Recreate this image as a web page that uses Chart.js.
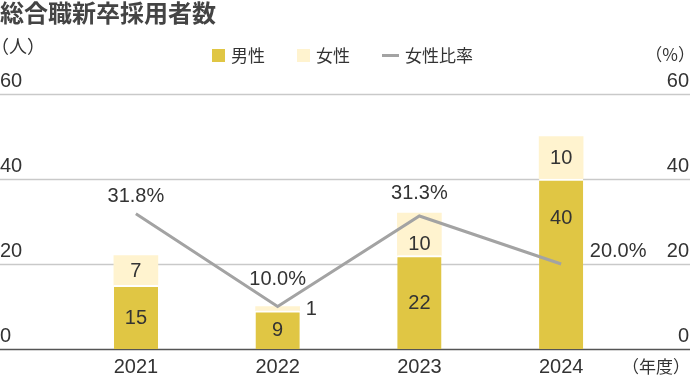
<!DOCTYPE html>
<html lang="ja">
<head>
<meta charset="utf-8">
<script src="https://cdn.jsdelivr.net/npm/chart.js@4.4.1/dist/chart.umd.min.js"></script>
<style>
  html, body { margin: 0; padding: 0; background: #fff; }
  #wrap { position: relative; width: 690px; height: 378px; }
  canvas { display: block; }
</style>
</head>
<body>
<div id="wrap"><canvas id="chart" width="690" height="378"></canvas></div>
<script>
// Chart data
const years = ['2021', '2022', '2023', '2024'];
const maleHires = [15, 9, 22, 40];
const femaleHires = [7, 1, 10, 10];
const femaleRatio = [31.8, 10.0, 31.3, 20.0];
const countTicks = [0, 20, 40, 60];
const ratioTicks = [0, 20, 40, 60];

// Colours and fonts
const maleColor = '#e0c644';
const femaleColor = '#fff3cf';
const lineColor = '#a3a3a3';
const textColor = '#333333';
const latin = '"Liberation Sans", Arial, sans-serif';
const jp = '"Noto Sans CJK JP", "Noto Sans", sans-serif';

// label nudges so values don't sit on the ratio line
const ratioLabelOffset = [[0, -17], [0, -27], [0, -22], [57, -13]];
const maleLabelShift = [0, 0, 0, -47];
const femaleLabelShift = [0, 0, 9, 0];

const decorations = {
    id: 'decorations',
    beforeDatasetsDraw(chart) {
        const ctx = chart.ctx;
        const y = chart.scales.y;
        ctx.save();
        countTicks.forEach(v => {
            const py = Math.round(y.getPixelForValue(v)) + 0.5;
            ctx.beginPath();
            ctx.moveTo(0, py);
            ctx.lineTo(chart.width, py);
            ctx.lineWidth = v === 0 ? 1.6 : 1.4;
            ctx.strokeStyle = v === 0 ? '#555555' : '#c9c9c9';
            ctx.stroke();
        });
        ctx.restore();
    },
    afterDraw(chart) {
        const ctx = chart.ctx;
        const x = chart.scales.x;
        const y = chart.scales.y;
        const y1 = chart.scales.y1;
        ctx.save();
        ctx.fillStyle = textColor;

        // title
        ctx.font = 'bold 24px ' + jp;
        ctx.textAlign = 'left';
        ctx.textBaseline = 'middle';
        ctx.fillStyle = '#444444';
        ctx.fillText('総合職新卒採用者数', 0, 13);
        ctx.fillStyle = textColor;

        // unit labels
        ctx.font = '18px ' + jp;
        ctx.fillText('（人）', -9, 46);
        ctx.font = '17px ' + jp;
        ctx.textAlign = 'right';
        ctx.fillText('（%）', 695, 55);

        // left / right tick labels
        ctx.font = '20px ' + latin;
        ctx.textBaseline = 'alphabetic';
        countTicks.forEach(v => {
            ctx.textAlign = 'left';
            ctx.fillText(String(v), 0, y.getPixelForValue(v) - 7);
        });
        ratioTicks.forEach(v => {
            ctx.textAlign = 'right';
            ctx.fillText(String(v), 689, y1.getPixelForValue(v) - 7);
        });

        // category labels
        ctx.textAlign = 'center';
        ctx.textBaseline = 'middle';
        years.forEach((yr, i) => {
            ctx.fillText(yr, x.getPixelForValue(i), 367);
        });
        ctx.font = '17px ' + jp;
        ctx.textAlign = 'right';
        ctx.fillText('（年度）', 690, 367);

        // legend
        ctx.textAlign = 'left';
        ctx.font = '17px ' + jp;
        ctx.fillStyle = maleColor;
        ctx.fillRect(212, 49, 13, 13);
        ctx.fillStyle = textColor;
        ctx.fillText(chart.data.datasets[0].label, 231, 56);
        ctx.fillStyle = femaleColor;
        ctx.fillRect(297, 49, 13, 13);
        ctx.fillStyle = textColor;
        ctx.fillText(chart.data.datasets[1].label, 316, 56);
        ctx.strokeStyle = lineColor;
        ctx.lineWidth = 3;
        ctx.beginPath();
        ctx.moveTo(382, 55.5);
        ctx.lineTo(399, 55.5);
        ctx.stroke();
        ctx.fillText(chart.data.datasets[2].label, 405, 56);

        // bar value labels
        ctx.font = '20px ' + latin;
        const shifts = [maleLabelShift, femaleLabelShift];
        [0, 1].forEach(di => {
            const meta = chart.getDatasetMeta(di);
            const values = chart.data.datasets[di].data;
            meta.data.forEach((bar, i) => {
                const h = Math.abs(bar.base - bar.y);
                const cy = (bar.y + bar.base) / 2 + 1 + shifts[di][i];
                if (h < 15) {
                    ctx.textAlign = 'left';
                    ctx.fillText(String(values[i]), bar.x + bar.width / 2 + 6, cy);
                } else {
                    ctx.textAlign = 'center';
                    ctx.fillText(String(values[i]), bar.x, cy);
                }
            });
        });

        // ratio labels
        ctx.textAlign = 'center';
        const lineMeta = chart.getDatasetMeta(2);
        lineMeta.data.forEach((pt, i) => {
            const off = ratioLabelOffset[i];
            ctx.fillText(femaleRatio[i].toFixed(1) + '%', pt.x + off[0], pt.y + off[1]);
        });
        ctx.restore();
    }
};

const chart = new Chart(document.getElementById('chart').getContext('2d'), {
    data: {
        labels: years,
        datasets: [
            {
                type: 'bar',
                label: '男性',
                data: maleHires,
                backgroundColor: maleColor,
                borderColor: '#ffffff',
                borderWidth: { top: 2, left: 0, right: 0, bottom: 0 },
                borderSkipped: false,
                barThickness: 44,
                stack: 'hires',
                yAxisID: 'y',
                order: 2
            },
            {
                type: 'bar',
                label: '女性',
                data: femaleHires,
                backgroundColor: femaleColor,
                borderWidth: 0,
                barThickness: 44,
                stack: 'hires',
                yAxisID: 'y',
                order: 2
            },
            {
                type: 'line',
                label: '女性比率',
                data: femaleRatio,
                borderColor: lineColor,
                borderWidth: 3,
                pointRadius: 0,
                tension: 0,
                yAxisID: 'y1',
                order: 1
            }
        ]
    },
    options: {
        responsive: false,
        animation: false,
        layout: { padding: { left: 65, right: 58, top: 94, bottom: 29 } },
        scales: {
            x: { display: false, stacked: true, offset: true },
            y: { display: false, stacked: true, min: 0, max: 60 },
            y1: { display: false, min: 0, max: 60, position: 'right' }
        },
        plugins: {
            legend: { display: false },
            tooltip: { enabled: false }
        }
    },
    plugins: [decorations]
});
</script>
</body>
</html>
